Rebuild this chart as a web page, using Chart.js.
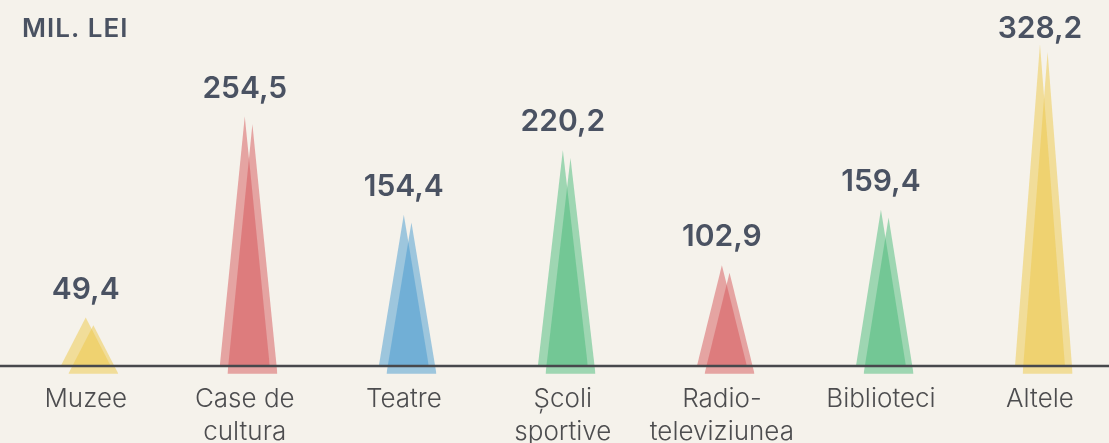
<!DOCTYPE html>
<html>
<head>
<meta charset="utf-8">
<script src="https://cdn.jsdelivr.net/npm/chart.js@4/dist/chart.umd.min.js"></script>
<style>
  html, body { margin: 0; padding: 0; background: #f5f2eb; }
  #wrap { position: relative; width: 1109px; height: 443px; }
</style>
</head>
<body>
<div id="wrap"><canvas id="chart"></canvas></div>
<script>
const categories = [
  ['Muzee'],
  ['Case de', 'cultura'],
  ['Teatre'],
  ['Școli', 'sportive'],
  ['Radio-', 'televiziunea'],
  ['Biblioteci'],
  ['Altele']
];
const values = [49.4, 254.5, 154.4, 220.2, 102.9, 159.4, 328.2];
const colorKeys = ['yellow', 'red', 'blue', 'green', 'red', 'green', 'yellow'];
const unitLabel = 'MIL. LEI';

const palette = {
  yellow: 'rgba(238, 199, 71, 0.5)',
  red: 'rgba(214, 85, 90, 0.5)',
  blue: 'rgba(70, 154, 207, 0.5)',
  green: 'rgba(72, 186, 122, 0.5)'
};

// triangle geometry (in axis units)
const halfWidth = 0.157;
const shiftX = 0.048;
const shiftY = 7.86;

const datasets = [];
values.forEach((v, i) => {
  const col = palette[colorKeys[i]];
  datasets.push({
    data: [{x: i - halfWidth, y: 0}, {x: i, y: v}, {x: i + halfWidth, y: 0}],
    showLine: true,
    borderWidth: 0,
    pointRadius: 0,
    backgroundColor: col,
    borderColor: 'rgba(0,0,0,0)',
    fill: {value: 0},
    tension: 0
  });
  const x2 = i + shiftX;
  datasets.push({
    data: [{x: x2 - halfWidth, y: -shiftY}, {x: x2, y: v - shiftY}, {x: x2 + halfWidth, y: -shiftY}],
    showLine: true,
    borderWidth: 0,
    pointRadius: 0,
    backgroundColor: col,
    borderColor: 'rgba(0,0,0,0)',
    fill: {value: -shiftY},
    tension: 0
  });
});

const textColor = '#4a5262';

const annotate = {
  id: 'annotate',
  afterDatasetsDraw(chart) {
    const ctx = chart.ctx;
    const area = chart.chartArea;
    const y0 = chart.scales.y.getPixelForValue(0);
    const xs = chart.scales.x;

    // baseline
    ctx.save();
    ctx.strokeStyle = '#47484c';
    ctx.lineWidth = 2.5;
    ctx.beginPath();
    ctx.moveTo(area.left, y0);
    ctx.lineTo(area.right, y0);
    ctx.stroke();

    // value labels
    ctx.fillStyle = textColor;
    ctx.font = '600 30px Inter';
    ctx.textAlign = 'center';
    ctx.textBaseline = 'alphabetic';
    values.forEach((v, i) => {
      const apex = chart.getDatasetMeta(2 * i).data[1];
      const y = Math.max(apex.y - 19, 38);
      ctx.fillText(v.toFixed(1).replace('.', ','), apex.x, y);
    });

    // category labels
    ctx.fillStyle = '#4d4d4f';
    ctx.font = '300 26px Inter';
    categories.forEach((lines, i) => {
      const x = xs.getPixelForValue(i);
      lines.forEach((line, k) => {
        ctx.fillText(line, x, y0 + 41 + k * 33);
      });
    });

    // unit
    ctx.fillStyle = textColor;
    ctx.font = '600 26px Inter';
    ctx.textAlign = 'left';
    ctx.letterSpacing = '1px';
    ctx.fillText(unitLabel, 22, 37);
    ctx.restore();
  }
};

new Chart(document.getElementById('chart'), {
  type: 'scatter',
  data: { datasets: datasets },
  options: {
    responsive: true,
    maintainAspectRatio: false,
    animation: false,
    layout: { padding: 0 },
    plugins: {
      legend: { display: false },
      tooltip: { enabled: false }
    },
    scales: {
      x: { type: 'linear', min: -0.539, max: 6.434, display: false },
      y: { type: 'linear', min: -78.57, max: 373.47, display: false }
    }
  },
  plugins: [annotate]
});
</script>
</body>
</html>
